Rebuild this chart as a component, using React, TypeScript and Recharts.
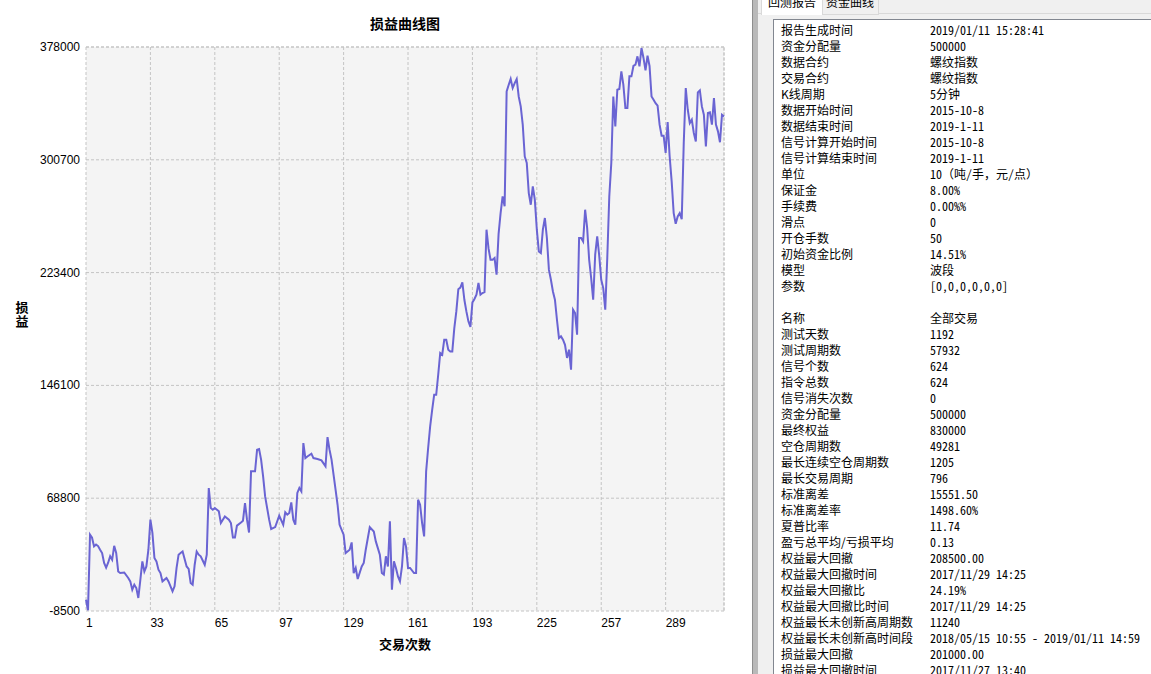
import { LineChart, Line, XAxis, YAxis, CartesianGrid, ReferenceLine } from 'recharts';

// 交易次数 (trade number) and 损益 (PnL)
const tradeNo = [
  1, 2, 3, 4, 5, 6, 7, 8, 9, 10, 11, 12, 13, 14, 15, 16, 17, 18, 20, 22, 23, 24, 25, 26, 27, 28, 29, 30,
  31, 32, 33, 34, 35, 36, 37, 38, 39, 41, 42, 44, 45, 46, 47, 48, 49, 51, 52, 53, 54, 55, 56, 57, 58, 60,
  61, 62, 63, 64, 65, 67, 68, 69, 70, 72, 73, 74, 75, 76, 78, 79, 80, 81, 82, 83, 85, 86, 87, 88, 89, 90,
  92, 93, 95, 97, 99, 100, 101, 102, 103, 104, 105, 106, 107, 108, 109, 110, 111, 113, 114, 116, 118, 120,
  121, 122, 123, 124, 125, 126, 127, 129, 130, 132, 133, 134, 135, 136, 138, 139, 140, 142, 144, 145, 147,
  148, 149, 150, 151, 152, 153, 154, 155, 156, 157, 158, 159, 160, 161, 162, 164, 165, 166, 167, 168, 169,
  170, 171, 172, 173, 174, 175, 176, 177, 178, 179, 180, 181, 182, 183, 184, 185, 186, 187, 188, 189, 190,
  191, 192, 193, 194, 195, 196, 197, 198, 199, 200, 201, 202, 203, 204, 205, 206, 207, 208, 209, 210, 211,
  212, 213, 214, 215, 216, 217, 218, 219, 220, 221, 222, 223, 224, 225, 226, 227, 228, 229, 230, 231, 232,
  233, 234, 235, 236, 237, 238, 239, 240, 241, 242, 243, 244, 245, 246, 247, 248, 249, 250, 251, 252, 253,
  254, 255, 256, 257, 258, 259, 260, 261, 262, 263, 264, 265, 266, 267, 268, 269, 270, 271, 272, 273, 274,
  275, 276, 277, 278, 279, 280, 281, 282, 283, 284, 285, 286, 287, 288, 289, 290, 291, 292, 293, 294, 295,
  296, 297, 298, 299, 300, 301, 302, 303, 304, 305, 306, 307, 308, 309, 310, 311, 312, 313, 314, 315, 316,
  317, 318,
];

const pnl = [
  -800, -8000, 43800, 41700, 35800, 37000, 36000, 33500, 31200, 24400, 21200, 24600, 29000, 26600, 36200,
  31300, 18600, 17500, 17900, 14100, 11800, 6100, 9500, 7200, 400, 12900, 25500, 18600,
  22000, 33500, 54100, 45000, 27800, 25500, 19800, 17500, 11800, 14100, 11800, 5000, 8400, 21000, 30100,
  31200, 32300, 22000, 20300, 10700, 9500, 23200, 32300, 30100, 29000, 23200,
  30100, 75800, 62100, 60900, 62100, 59800, 51800, 54100, 56300, 54100, 51800, 41900, 41900, 50000, 52200,
  53400, 65500, 54100, 45300, 87200, 87200, 102000, 102500, 95200, 83700, 70000,
  54100, 47700, 49000, 56800, 50600, 59100, 57500, 58700, 65900, 54100, 50600, 72400, 75800, 73500, 106600,
  96300, 97400, 99300, 96300, 95700, 94700, 90600,
  110700, 102000, 95200, 84900, 74600, 64300, 50600, 43800, 31200, 33500, 38500, 17500, 21000, 13400, 22000,
  24400, 33500, 49000, 46000, 39200, 30100,
  17500, 16400, 29000, 22000, 52900, 6100, 25500, 21000, 15200, 11800, 22000, 41500, 35800, 21000, 21000,
  17500, 17500, 67800, 64300, 51800, 42600,
  87200, 103200, 118000, 129400, 139700, 139700, 153400, 168300, 167100, 177400, 177400, 170600, 169400,
  169400, 185400, 196800, 212000, 213100, 216700, 204800, 196800,
  190000, 186100, 203000, 205300, 208300, 216300, 208300, 209400, 210000, 252800, 240000, 232200, 232200,
  233400, 222000, 250000, 264200, 275600, 268800, 347600, 352000,
  356100, 349900, 353300, 356100, 344100, 337300, 324800, 303000, 298500, 277900, 269900, 282500, 273400,
  252800, 237900, 236800, 252800, 260800, 247100, 225400, 218500,
  210500, 204800, 191100, 178600, 179700, 177400, 173900, 164900, 170600, 156900, 198000, 195700, 180800,
  247100, 247100, 244800, 266500, 254000, 232200, 219600, 204800,
  235700, 248300, 235000, 218500, 212800, 198000, 233400, 275600, 298500, 344100, 323600, 348700, 349200,
  361300, 352000, 336200, 336200, 357900, 357900, 365000, 365900,
  371600, 364700, 377300, 370500, 362000, 372000, 365000, 344100, 341900, 339500, 337800, 324800, 317200,
  317200, 305400, 326500, 303000, 285900, 264200, 256900, 261900,
  264200, 260000, 312200, 349900, 335000, 325900, 328200, 319100, 313300, 346900, 348300, 337300, 331600,
  309900, 332800, 333200, 324800, 343000, 324800, 320200, 312700,
  331600, 330400,
];

const xTicks = [1, 33, 65, 97, 129, 161, 193, 225, 257, 289];
const yTicks = [-8500, 68800, 146100, 223400, 300700, 378000];

const reportLabels = [
  '报告生成时间', '资金分配量', '数据合约', '交易合约', 'K线周期', '数据开始时间', '数据结束时间',
  '信号计算开始时间', '信号计算结束时间', '单位', '保证金', '手续费', '滑点', '开仓手数', '初始资金比例',
  '模型', '参数', '',
  '名称', '测试天数', '测试周期数', '信号个数', '指令总数', '信号消失次数', '资金分配量', '最终权益',
  '空仓周期数', '最长连续空仓周期数', '最长交易周期', '标准离差', '标准离差率', '夏普比率',
  '盈亏总平均/亏损平均', '权益最大回撤', '权益最大回撤时间', '权益最大回撤比', '权益最大回撤比时间',
  '权益最长未创新高周期数', '权益最长未创新高时间段', '损益最大回撤', '损益最大回撤时间',
];
const reportValues = [
  '2019/01/11 15:28:41', '500000', '螺纹指数', '螺纹指数', '5分钟', '2015-10-8', '2019-1-11',
  '2015-10-8', '2019-1-11', '10（吨/手，元/点）', '8.00%', '0.00%%', '0', '50', '14.51%',
  '波段', '[0,0,0,0,0,0]', '',
  '全部交易', '1192', '57932', '624', '624', '0', '500000', '830000',
  '49281', '1205', '796', '15551.50', '1498.60%', '11.74',
  '0.13', '208500.00', '2017/11/29 14:25', '24.19%', '2017/11/29 14:25',
  '11240', '2018/05/15 10:55 - 2019/01/11 14:59', '201000.00', '2017/11/27 13:40',
];

const data = tradeNo.map((n, i) => ({ n, v: pnl[i] }));

const tickFont = '"Liberation Sans", Arial, sans-serif';
const cjk = '"Noto Sans CJK SC", sans-serif';
const cjkMono = '"Noto Sans Mono CJK SC", "Noto Sans CJK SC", monospace';

const XTick = ({ payload }: any) => (
  <text x={payload.coordinate} y={627} textAnchor="start" fontSize={12} fontFamily={tickFont} fill="#000">
    {payload.value}
  </text>
);

const YTick = ({ payload }: any) => (
  <text x={80} y={payload.coordinate + 4} textAnchor="end" fontSize={12} fontFamily={tickFont} fill="#000">
    {payload.value}
  </text>
);

const App = () => {
  return (
    <div style={{ position: 'absolute', left: 0, top: 0, width: 1151, height: 674, background: '#fff', overflow: 'hidden' }}>
      <LineChart width={750} height={674} data={data} margin={{ top: 47, right: 26, bottom: 0, left: 0 }}>
        <CartesianGrid fill="#f4f4f4" stroke="#c4c4c4" strokeDasharray="3 2" />
        <XAxis
          dataKey="n"
          type="number"
          domain={[1, 318]}
          ticks={xTicks}
          interval={0}
          height={63}
          axisLine={false}
          tickLine={false}
          tick={<XTick />}
        />
        <YAxis
          type="number"
          domain={[-8500, 378000]}
          ticks={yTicks}
          interval={0}
          width={86}
          axisLine={false}
          tickLine={false}
          tick={<YTick />}
        />
        <ReferenceLine x={318} stroke="#c4c4c4" strokeDasharray="3 2" />
        <ReferenceLine y={378000} stroke="#c4c4c4" strokeDasharray="3 2" />
        <Line type="linear" dataKey="v" stroke="#6a64d3" strokeWidth={2} dot={false} isAnimationActive={false} />
      </LineChart>

      <div style={{ position: 'absolute', left: 86, width: 638, top: 14, textAlign: 'center', fontFamily: cjk, fontWeight: 'bold', fontSize: 14, lineHeight: '18px' }}>
        损益曲线图
      </div>
      <div style={{ position: 'absolute', left: 86, width: 638, top: 635, textAlign: 'center', fontFamily: cjk, fontWeight: 'bold', fontSize: 13, lineHeight: '18px' }}>
        交易次数
      </div>
      <div style={{ position: 'absolute', left: 14, width: 16, top: 300, textAlign: 'center', fontFamily: cjk, fontWeight: 'bold', fontSize: 13, lineHeight: '14px', height: 14 }}>
        损
      </div>
      <div style={{ position: 'absolute', left: 14, width: 16, top: 314, textAlign: 'center', fontFamily: cjk, fontWeight: 'bold', fontSize: 13, lineHeight: '14px', height: 14 }}>
        益
      </div>

      {/* right report panel */}
      <div style={{ position: 'absolute', left: 752, top: 0, width: 5, height: 674, background: '#b9b9b9', borderLeft: '1px solid #8e8e8e' }} />
      <div style={{ position: 'absolute', left: 758, top: 0, right: 0, height: 674, background: '#f0f0f0' }}>
        <div style={{ position: 'absolute', left: 0, right: 0, top: 13, borderTop: '1px solid #d9d9d9' }} />
        <div style={{ position: 'absolute', left: 63, top: -2, width: 56, height: 15, background: '#f0f0f0', border: '1px solid #d9d9d9', fontFamily: cjk, fontSize: 12, lineHeight: '12px', textAlign: 'center', overflow: 'hidden' }}>
          <div style={{ marginTop: -3 }}>资金曲线</div>
        </div>
        <div style={{ position: 'absolute', left: 3, top: -3, width: 60, height: 17, background: '#fff', border: '1px solid #d9d9d9', borderBottom: 'none', fontFamily: cjk, fontSize: 12, lineHeight: '12px', textAlign: 'center', overflow: 'hidden' }}>
          <div style={{ marginTop: -2 }}>回测报告</div>
        </div>
        <div style={{ position: 'absolute', left: 15, top: 19, right: 0, bottom: 0, background: '#fff', borderLeft: '1px solid #828790', borderTop: '1px solid #828790' }}>
          {reportLabels.map((label, i) => (
            <div key={i} style={{ position: 'absolute', top: 2 + i * 16, left: 7, height: 16, lineHeight: '16px', fontSize: 12, color: '#000', whiteSpace: 'nowrap' }}>
              <span style={{ position: 'absolute', left: 0, fontFamily: cjk }}>{label}</span>
              <span style={{ position: 'absolute', left: 149, fontFamily: cjkMono }}>{reportValues[i]}</span>
            </div>
          ))}
        </div>
      </div>
    </div>
  );
};

export default App;
